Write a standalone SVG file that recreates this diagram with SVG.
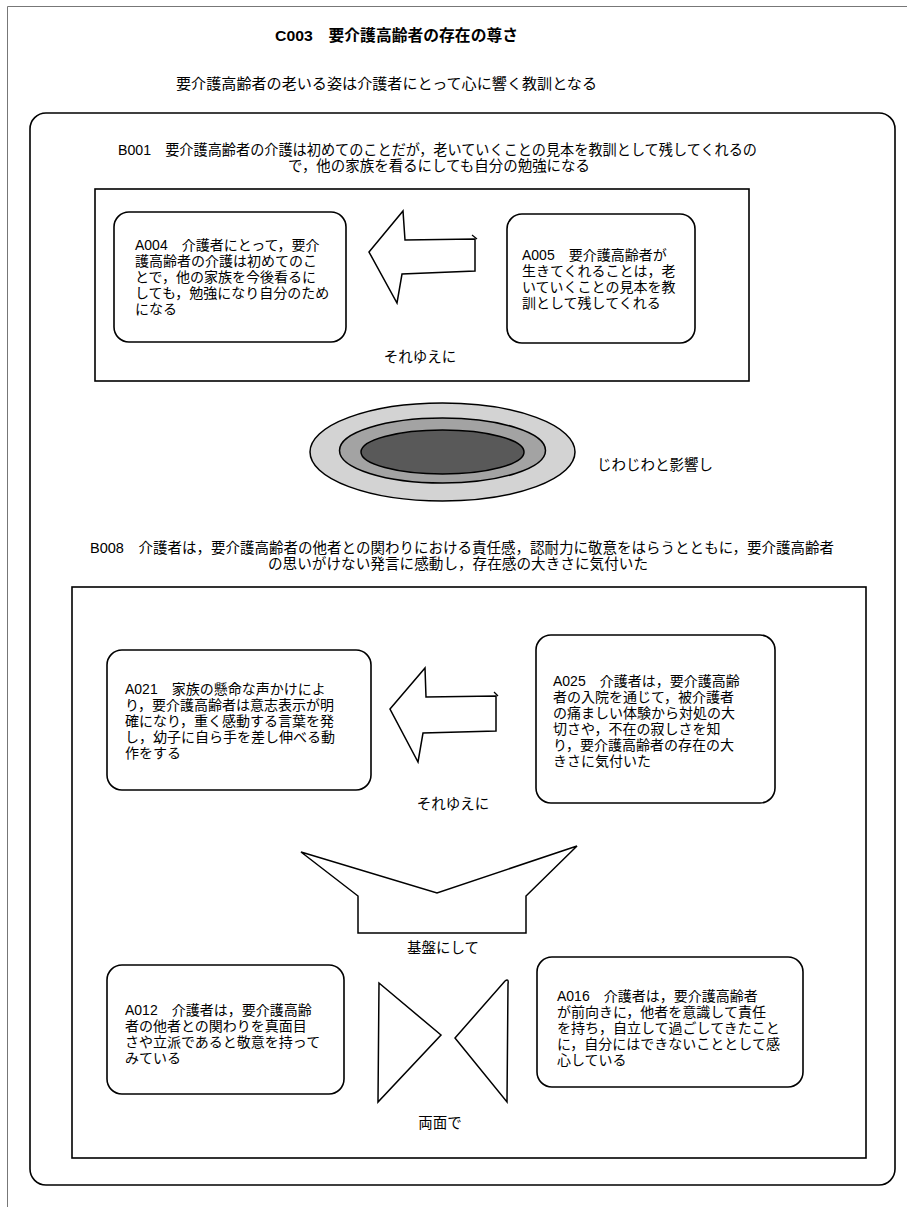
<svg xmlns="http://www.w3.org/2000/svg" width="907" height="1207" viewBox="0 0 907 1207">
<style>
  text { font-family: "Liberation Sans", "Noto Sans CJK JP", sans-serif; fill: #000; }
  .hd { font-size: 14.5px; }
  .ttl { font-size: 15.5px; font-weight: bold; }
  .nt { font-size: 14px; }
  .lbl { font-size: 14.5px; }
  .node { fill: #fff; stroke: #000; stroke-width: 1.6; }
  .frame { fill: none; stroke: #000; stroke-width: 1.6; }
  .shape { fill: #fff; stroke: #000; stroke-width: 1.5; stroke-linejoin: miter; }
</style>
<rect x="0" y="0" width="907" height="1207" fill="#fff"/>
<path d="M7.5 1207 V6.5 H907" fill="none" stroke="#777" stroke-width="1"/>

<g id="title">
  <text class="ttl" x="275" y="41" textLength="243" lengthAdjust="spacingAndGlyphs">C003　要介護高齢者の存在の尊さ</text>
  <text class="hd" x="176" y="89" textLength="421" lengthAdjust="spacingAndGlyphs">要介護高齢者の老いる姿は介護者にとって心に響く教訓となる</text>
</g>

<g id="outer">
  <rect class="frame" x="30" y="113" width="865" height="1072" rx="16" ry="16" stroke-width="1.8"/>
</g>

<g id="B001">
  <text class="hd" x="118" y="155" textLength="639" lengthAdjust="spacingAndGlyphs">B001　要介護高齢者の介護は初めてのことだが，老いていくことの見本を教訓として残してくれるの</text>
  <text class="hd" x="288" y="171" textLength="302" lengthAdjust="spacingAndGlyphs">で，他の家族を看るにしても自分の勉強になる</text>
  <rect class="frame" x="95" y="189" width="654" height="192"/>
</g>

<g id="A004">
  <rect class="node" x="114" y="212" width="232" height="130" rx="15" ry="15"/>
  <text class="nt" x="135" y="250">
    <tspan x="135" dy="0">A004　介護者にとって，要介</tspan>
    <tspan x="135" dy="16">護高齢者の介護は初めてのこ</tspan>
    <tspan x="135" dy="16">とで，他の家族を今後看るに</tspan>
    <tspan x="135" dy="16">しても，勉強になり自分のため</tspan>
    <tspan x="135" dy="16">になる</tspan>
  </text>
</g>

<g id="A005">
  <rect class="node" x="507" y="214" width="188" height="129" rx="15" ry="15"/>
  <text class="nt" x="522" y="260">
    <tspan x="522" dy="0">A005　要介護高齢者が</tspan>
    <tspan x="522" dy="16">生きてくれることは，老</tspan>
    <tspan x="522" dy="16">いていくことの見本を教</tspan>
    <tspan x="522" dy="16">訓として残してくれる</tspan>
  </text>
</g>

<g id="B008">
  <text class="hd" x="90" y="553" textLength="744" lengthAdjust="spacingAndGlyphs">B008　介護者は，要介護高齢者の他者との関わりにおける責任感，認耐力に敬意をはらうとともに，要介護高齢者</text>
  <text class="hd" x="268" y="569" textLength="380" lengthAdjust="spacingAndGlyphs">の思いがけない発言に感動し，存在感の大きさに気付いた</text>
  <rect class="frame" x="72" y="587" width="794" height="571"/>
</g>

<g id="A021">
  <rect class="node" x="107" y="650" width="264" height="140" rx="15" ry="15"/>
  <text class="nt" x="125" y="694">
    <tspan x="125" dy="0">A021　家族の懸命な声かけによ</tspan>
    <tspan x="125" dy="16">り，要介護高齢者は意志表示が明</tspan>
    <tspan x="125" dy="16">確になり，重く感動する言葉を発</tspan>
    <tspan x="125" dy="16">し，幼子に自ら手を差し伸べる動</tspan>
    <tspan x="125" dy="16">作をする</tspan>
  </text>
</g>

<g id="A025">
  <rect class="node" x="536" y="635" width="239" height="168" rx="15" ry="15"/>
  <text class="nt" x="553" y="686">
    <tspan x="553" dy="0">A025　介護者は，要介護高齢</tspan>
    <tspan x="553" dy="16">者の入院を通じて，被介護者</tspan>
    <tspan x="553" dy="16">の痛ましい体験から対処の大</tspan>
    <tspan x="553" dy="16">切さや，不在の寂しさを知</tspan>
    <tspan x="553" dy="16">り，要介護高齢者の存在の大</tspan>
    <tspan x="553" dy="16">きさに気付いた</tspan>
  </text>
</g>

<g id="A012">
  <rect class="node" x="107" y="965" width="237" height="129" rx="15" ry="15"/>
  <text class="nt" x="125" y="1015">
    <tspan x="125" dy="0">A012　介護者は，要介護高齢</tspan>
    <tspan x="125" dy="16">者の他者との関わりを真面目</tspan>
    <tspan x="125" dy="16">さや立派であると敬意を持って</tspan>
    <tspan x="125" dy="16">みている</tspan>
  </text>
</g>

<g id="A016">
  <rect class="node" x="537" y="957" width="266" height="130" rx="15" ry="15"/>
  <text class="nt" x="557" y="1001">
    <tspan x="557" dy="0">A016　介護者は，要介護高齢者</tspan>
    <tspan x="557" dy="16">が前向きに，他者を意識して責任</tspan>
    <tspan x="557" dy="16">を持ち，自立して過ごしてきたこと</tspan>
    <tspan x="557" dy="16">に，自分にはできないこととして感</tspan>
    <tspan x="557" dy="16">心している</tspan>
  </text>
</g>

<g id="connectors">
  <g id="arrow-b001">
    <polygon class="shape" points="369,252 403,211 405,240 475,239 475,271 402,274 397,303"/>
    <path d="M472 235 L477 239" fill="none" stroke="#000" stroke-width="1.2"/>
    <text class="lbl" x="420" y="362" text-anchor="middle">それゆえに</text>
  </g>
  <g id="ripple">
    <ellipse cx="442.5" cy="452" rx="132.5" ry="49" fill="#d3d3d3" stroke="#000" stroke-width="1.5"/>
    <ellipse cx="442.5" cy="450.5" rx="103" ry="32.5" fill="#a3a3a3" stroke="#000" stroke-width="1.5"/>
    <ellipse cx="442.5" cy="452" rx="81.5" ry="22" fill="#595959" stroke="#000" stroke-width="1.5"/>
    <text class="lbl" x="597" y="470">じわじわと影響し</text>
  </g>
  <g id="arrow-b008">
    <polygon class="shape" points="390,709 425,668 426,697 496,696 496,731 423,733 418,762"/>
    <path d="M494 692 L498 696" fill="none" stroke="#000" stroke-width="1.2"/>
    <text class="lbl" x="453" y="809" text-anchor="middle">それゆえに</text>
  </g>
  <g id="funnel">
    <polygon class="shape" points="301,852 437,893 577,846 526,896 526,933 358,933 358,896"/>
    <text class="lbl" x="443" y="953" text-anchor="middle">基盤にして</text>
  </g>
  <g id="bowtie">
    <polygon class="shape" points="379,983 441,1035 378,1102"/>
    <path class="shape" d="M505 981 Q509 978 508 984 L507 1102 L455 1038 Z"/>
    <text class="lbl" x="440" y="1128" text-anchor="middle">両面で</text>
  </g>
</g>
</svg>
